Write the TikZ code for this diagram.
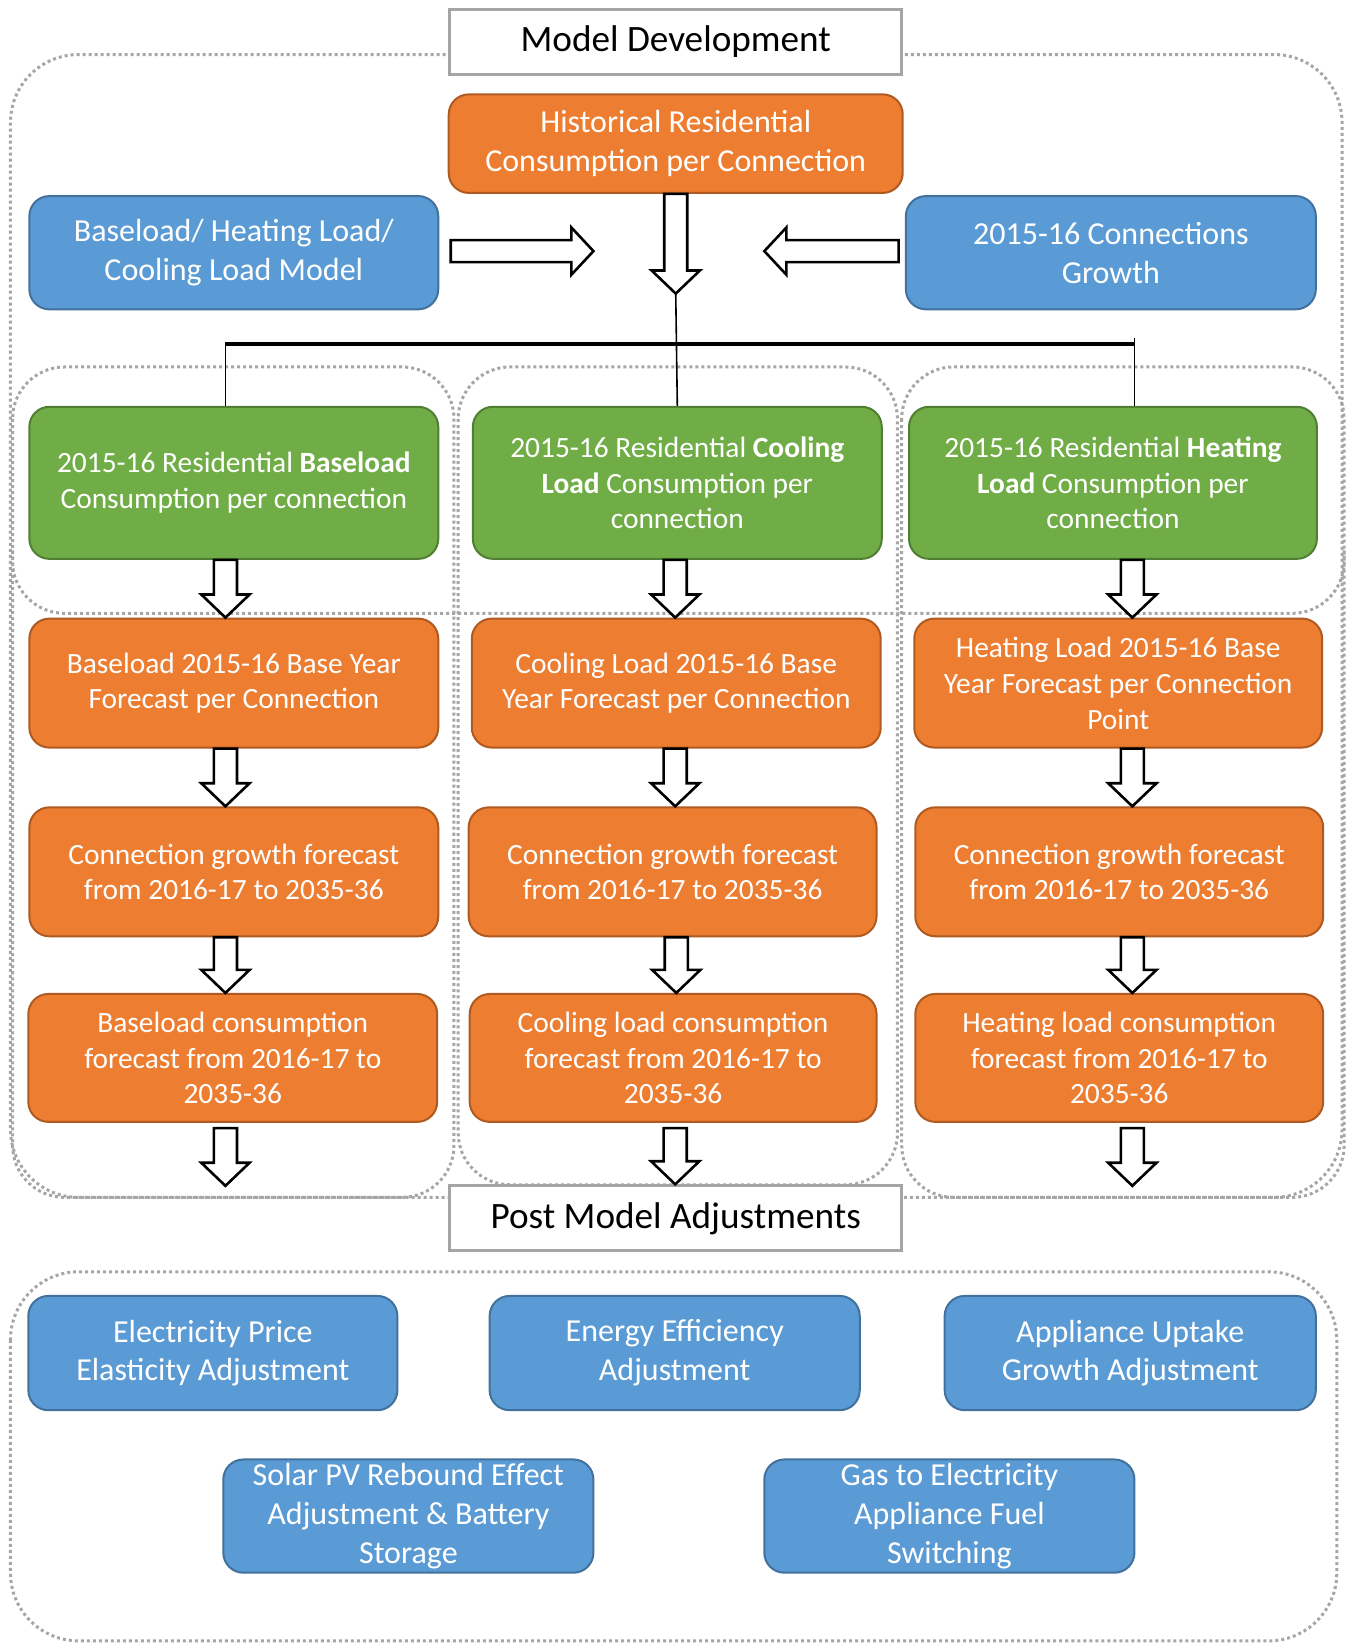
\documentclass[tikz,border=0pt]{standalone}
\usepackage{fontspec}
\setmainfont{Carlito}
\usetikzlibrary{calc}
\definecolor{orangefill}{HTML}{ED7D31}
\definecolor{orangeline}{HTML}{AE5A21}
\definecolor{greenfill}{HTML}{70AD47}
\definecolor{greenline}{HTML}{507E32}
\definecolor{bluefill}{HTML}{5B9BD5}
\definecolor{blueline}{HTML}{41719C}
\definecolor{framegray}{HTML}{A6A6A6}
\definecolor{titlegray}{HTML}{A5A5A5}

% hollow block arrows; #1 = x position, #2/#3 = start and tip
\newcommand{\hdown}[3]{%
  \draw[hollow] let \p1=#2, \p2=#3, \p3=(#1,0) in
    (\x3-11*0.524pt,\y1) -- (\x3+11*0.524pt,\y1) -- (\x3+11*0.524pt,\y2+22*0.524pt)
    -- (\x3+23*0.524pt,\y2+22*0.524pt) -- (\x3,\y2) -- (\x3-23*0.524pt,\y2+22*0.524pt)
    -- (\x3-11*0.524pt,\y2+22*0.524pt) -- cycle;}
\newcommand{\hhoriz}[2]{%
  \draw[hollow] let \p1=#1, \p2=#2, \n1={sign(\x2-\x1)*21*0.524pt} in
    (\x1,\y2+10.5*0.524pt) -- (\x2-\n1,\y2+10.5*0.524pt) -- (\x2-\n1,\y2+22.5*0.524pt)
    -- (\x2,\y2) -- (\x2-\n1,\y2-22.5*0.524pt) -- (\x2-\n1,\y2-10.5*0.524pt)
    -- (\x1,\y2-10.5*0.524pt) -- cycle;}

\begin{document}
\begin{tikzpicture}[x=0.524pt, y=-0.524pt,
  sz/.style 2 args={minimum width=#1*0.524pt, minimum height=#2*0.524pt},
  box/.style={rounded corners=10pt, line width=1pt, text=white, align=center, inner sep=0pt},
  orangebox/.style={box, fill=orangefill, draw=orangeline, font=\fontsize{14.7}{17.9}\selectfont},
  greenbox/.style={box, fill=greenfill, draw=greenline, font=\fontsize{14.7}{17.9}\selectfont},
  bluebox/.style={box, fill=bluefill, draw=blueline, font=\fontsize{16}{19.4}\selectfont},
  titlebox/.style={draw=titlegray, line width=1.5pt, fill=white, text=black, inner sep=0pt,
    font=\fontsize{18.6}{22}\selectfont},
  frame/.style={draw=framegray, line width=1.5pt, dash pattern=on 1.5pt off 1.5pt},
  hollow/.style={draw=black, fill=white, line width=1.3pt, line join=miter},
  thinline/.style={draw=black, line width=0.8pt},
  busline/.style={draw=black, line width=1.6pt}
]
\useasboundingbox (0,0) rectangle (1289,1568);

% dotted group frames
\draw[frame, rounded corners=34pt] (10,52) rectangle (1280,1142);
\draw[frame, rounded corners=26pt] (12,350) rectangle (433,1142);
\draw[frame, rounded corners=26pt] (437,350) rectangle (856,1130);
\draw[frame, rounded corners=26pt] (860,350) rectangle (1282,1142);
\draw[frame, rounded corners=26pt] (12,525) -- (12,585) -- (1282,585) -- (1282,525);
\draw[frame, rounded corners=34pt] (10,1213) rectangle (1275,1565);

% headings
\node[titlebox, sz={431}{62}] (title) at (644.5,40) {Model Development};
\node[titlebox, sz={431}{62}] (post) at (644.5,1162) {Post Model Adjustments};

% model inputs
\node[orangebox, sz={433}{94}, font=\fontsize{16}{19.4}\selectfont] (hist) at (644.5,137)
  {Historical Residential\\Consumption per Connection};
\node[bluebox, sz={390}{108}] (bl) at (223,241) {Baseload/ Heating Load/\\Cooling Load Model};
\node[bluebox, sz={391}{108}] (br) at (1059.5,241) {2015-16 Connections\\Growth};

% base year consumption per connection
\node[greenbox, sz={390}{145}] (g1) at (223,460.5)
  {2015-16 Residential \textbf{Baseload}\\Consumption per connection};
\node[greenbox, sz={390}{145}] (g2) at (646,460.5)
  {2015-16 Residential \textbf{Cooling}\\\textbf{Load} Consumption per\\connection};
\node[greenbox, sz={389}{145}] (g3) at (1061.5,460.5)
  {2015-16 Residential \textbf{Heating}\\\textbf{Load} Consumption per\\connection};

% forecast chain
\node[orangebox, sz={390}{123}] (o11) at (223,651.5) {Baseload 2015-16 Base Year\\Forecast per Connection};
\node[orangebox, sz={390}{123}] (o12) at (645,651.5) {Cooling Load 2015-16 Base\\Year Forecast per Connection};
\node[orangebox, sz={389}{123}] (o13) at (1066.5,651.5) {Heating Load 2015-16 Base\\Year Forecast per Connection\\Point};

\node[orangebox, sz={390}{123}] (o21) at (223,831.5) {Connection growth forecast\\from 2016-17 to 2035-36};
\node[orangebox, sz={389}{123}] (o22) at (641.5,831.5) {Connection growth forecast\\from 2016-17 to 2035-36};
\node[orangebox, sz={389}{123}] (o23) at (1067.5,831.5) {Connection growth forecast\\from 2016-17 to 2035-36};

\node[orangebox, sz={390}{122}] (o31) at (222,1009) {Baseload consumption\\forecast from 2016-17 to\\2035-36};
\node[orangebox, sz={388}{122}] (o32) at (642,1009) {Cooling load consumption\\forecast from 2016-17 to\\2035-36};
\node[orangebox, sz={389}{122}] (o33) at (1067.5,1009) {Heating load consumption\\forecast from 2016-17 to\\2035-36};

% post model adjustments
\node[bluebox, sz={352}{109}] (a1) at (203,1290.5) {Electricity Price\\Elasticity Adjustment};
\node[bluebox, sz={353}{109}] (a2) at (643.5,1290.5) {Energy Efficiency\\Adjustment};
\node[bluebox, sz={354}{109}] (a3) at (1078,1290.5) {Appliance Uptake\\Growth Adjustment};
\node[bluebox, sz={353}{108}] (a4) at (389.5,1446) {Solar PV Rebound Effect\\Adjustment \& Battery\\Storage};
\node[bluebox, sz={353}{108}] (a5) at (905.5,1446) {Gas to Electricity\\Appliance Fuel\\Switching};

% free ends of the block arrows and the distribution bus
\coordinate (tipR) at (566,239.5);
\coordinate (tipL) at (729,239.5);
\coordinate (histtip) at (644.5,280);
\coordinate (busL) at (215,328);
\coordinate (busR) at (1082,328);
\coordinate (busRtop) at (1082,322);
\coordinate (end1) at (215,1131);
\coordinate (end3) at (1080,1131);

% inputs into the model
\hhoriz{($(bl.east)+(11,0)$)}{(tipR)}
\hhoriz{($(br.west)+(-6,0)$)}{(tipL)}
\hdown{644.5}{(hist.south)}{(histtip)}

% distribution to the three load components
\draw[thinline] (histtip) -- (g2.north);
\draw[busline] (busL) -- (busR);
\draw[thinline] (busL) -- (busL |- g1.north);
\draw[thinline] (busRtop) -- (busRtop |- g3.north);

% column flows
\hdown{215}{(g1.south)}{(o11.north)}
\hdown{644}{(g2.south)}{(o12.north)}
\hdown{1080}{(g3.south)}{(o13.north)}
\hdown{215}{(o11.south)}{(o21.north)}
\hdown{644}{(o12.south)}{(o22.north)}
\hdown{1080}{(o13.south)}{(o23.north)}
\hdown{215}{(o21.south)}{(o31.north)}
\hdown{645}{(o22.south)}{(o32.north)}
\hdown{1080}{(o23.south)}{(o33.north)}
\hdown{215}{($(o31.south)+(0,5)$)}{(end1)}
\hdown{644}{($(o32.south)+(0,5)$)}{(post.north)}
\hdown{1080}{($(o33.south)+(0,5)$)}{(end3)}
\end{tikzpicture}
\end{document}
